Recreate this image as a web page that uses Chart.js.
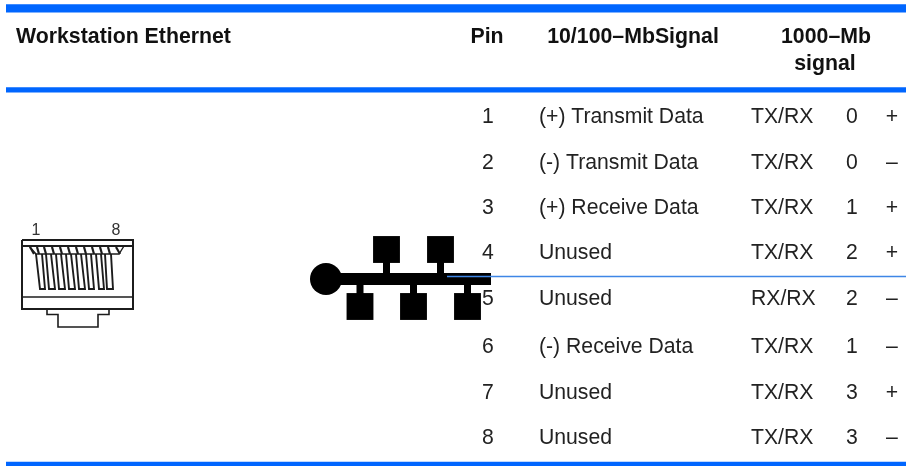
<!DOCTYPE html>
<html>
<head>
<meta charset="utf-8">
<style>
  html, body { margin: 0; padding: 0; background: #fff; }
  canvas { display: block; }
</style>
<script src="https://cdn.jsdelivr.net/npm/chart.js@4/dist/chart.umd.min.js"></script>
</head>
<body>
<canvas id="chart" width="906" height="466"></canvas>
<script>
// table contents
var pins = ["1", "2", "3", "4", "5", "6", "7", "8"];
var signals100 = ["(+) Transmit Data", "(-) Transmit Data", "(+) Receive Data", "Unused",
                  "Unused", "(-) Receive Data", "Unused", "Unused"];
var signals1000 = ["TX/RX", "TX/RX", "TX/RX", "TX/RX", "RX/RX", "TX/RX", "TX/RX", "TX/RX"];
var pairs = ["0", "0", "1", "2", "2", "1", "3", "3"];
var polarity = ["+", "–", "+", "+", "–", "–", "+", "–"];

var titleText = "Workstation Ethernet";
var pinHeader = "Pin";
var header100 = "10/100–MbSignal";
var header1000 = ["1000–Mb", "signal"];

// row centres along the y scale
var rowY = [117.5, 163, 208.5, 253.5, 299.5, 347, 393.5, 438.5];

// jack drawing: finger positions at top, shoulder and bottom
var fingerTop = [[30, 34], [37, 39], [44, 46], [52, 54], [60, 62], [68, 70], [76, 78], [84, 86], [92, 94], [100, 102], [108, 110], [116, 120]];
var fingerLeft = [36, 46, 56, 66, 76, 86, 96, 105];
var fingerRight = [42, 51, 61, 71, 81, 91, 101, 111];
var fingerBottomLeft = [40, 49, 59, 69, 79, 89, 99, 107];
var fingerBottomRight = [45, 55, 65, 75, 85, 94, 104, 113];

// network symbol nodes
var upperNodes = [386.5, 440.5];
var lowerNodes = [360, 413.5, 467.5];

function seg(x1, y1, x2, y2) {
    return [{x: x1, y: y1}, {x: x2, y: y2}];
}

function lineSet(points, color, width) {
    return {
        data: points,
        showLine: true,
        borderColor: color,
        borderWidth: width,
        pointRadius: 0,
        fill: false,
        tension: 0
    };
}

function nodeSet(points, style, radius) {
    return {
        data: points,
        showLine: false,
        pointStyle: style,
        pointRadius: radius,
        pointBorderWidth: 0,
        backgroundColor: "#000",
        borderColor: "#000"
    };
}

var blue = "#0066ff";
var ink = "#1c1c1c";
var datasets = [];

// first dataset ends up on top
datasets.push(lineSet(seg(447, 276.5, 906, 276.5), "#3f86e6", 1.5));

// table rules
datasets.push(lineSet(seg(6, 8.4, 906, 8.4), blue, 8.4));
datasets.push(lineSet(seg(6, 89.8, 906, 89.8), blue, 5.2));
datasets.push(lineSet(seg(6, 464, 906, 464), blue, 4.4));

// network symbol
datasets.push(lineSet(seg(326, 279, 491, 279), "#000", 12));
upperNodes.forEach(function (x) {
    datasets.push(lineSet(seg(x, 262, x, 274), "#000", 7));
});
lowerNodes.forEach(function (x) {
    datasets.push(lineSet(seg(x, 284, x, 294), "#000", 7));
});
datasets.push(nodeSet(upperNodes.map(function (x) { return {x: x, y: 249.5}; }), "rect", 19));
datasets.push(nodeSet(lowerNodes.map(function (x) { return {x: x, y: 306.5}; }), "rect", 19));
datasets.push(nodeSet([{x: 326, y: 279}], "circle", 16));

// jack body
datasets.push(lineSet([{x: 22, y: 240}, {x: 133, y: 240}, {x: 133, y: 309}, {x: 22, y: 309}, {x: 22, y: 240}], ink, 2));
datasets.push(lineSet(seg(22, 246, 133, 246), ink, 2));
datasets.push(lineSet(seg(22, 297, 133, 297), ink, 1.6));
datasets.push(lineSet([{x: 47, y: 310}, {x: 47, y: 314.5}, {x: 58, y: 314.5}, {x: 58, y: 327}, {x: 98, y: 327}, {x: 98, y: 314.5}, {x: 109, y: 314.5}, {x: 109, y: 310}], ink, 1.6));
datasets.push(lineSet([{x: 29, y: 246}, {x: 36, y: 254}, {x: 119, y: 254}, {x: 124, y: 246}], ink, 1.4));

// jack fingers
fingerLeft.forEach(function (x, i) {
    datasets.push(lineSet([
        {x: x, y: 254},
        {x: fingerBottomLeft[i], y: 289},
        {x: fingerBottomRight[i], y: 289},
        {x: fingerRight[i], y: 254}
    ], ink, 1.9));
});
fingerTop.forEach(function (t) {
    datasets.push(lineSet(seg(t[0], 247, t[1], 254), ink, 2.2));
});

function putText(ctx, xs, ys, text, x, y, align, font, color) {
    ctx.font = font;
    ctx.fillStyle = color;
    ctx.textAlign = align;
    ctx.textBaseline = "middle";
    ctx.fillText(text, xs.getPixelForValue(x), ys.getPixelForValue(y));
}

var tableText = {
    id: "tableText",
    afterDatasetsDraw: function (chart) {
        var ctx = chart.ctx;
        var xs = chart.scales.x;
        var ys = chart.scales.y;
        var bold = "bold 21.3px 'Liberation Sans'";
        var normal = "21.2px 'Liberation Sans'";
        ctx.save();
        putText(ctx, xs, ys, titleText, 16, 37, "left", bold, "#111");
        putText(ctx, xs, ys, pinHeader, 487, 37, "center", bold, "#111");
        putText(ctx, xs, ys, header100, 633, 37, "center", bold, "#111");
        putText(ctx, xs, ys, header1000[0], 826, 37, "center", bold, "#111");
        putText(ctx, xs, ys, header1000[1], 825, 64, "center", bold, "#111");
        pins.forEach(function (p, i) {
            putText(ctx, xs, ys, p, 488, rowY[i], "center", normal, "#222");
            putText(ctx, xs, ys, signals100[i], 539, rowY[i], "left", normal, "#222");
            putText(ctx, xs, ys, signals1000[i], 751, rowY[i], "left", normal, "#222");
            putText(ctx, xs, ys, pairs[i], 852, rowY[i], "center", normal, "#222");
            putText(ctx, xs, ys, polarity[i], 892, rowY[i], "center", normal, "#222");
        });
        putText(ctx, xs, ys, "1", 36, 231, "center", "16px 'Liberation Sans'", "#333");
        putText(ctx, xs, ys, "8", 116, 231, "center", "16px 'Liberation Sans'", "#333");
        ctx.restore();
    }
};

new Chart(document.getElementById("chart"), {
    type: "scatter",
    data: { datasets: datasets },
    options: {
        responsive: false,
        animation: false,
        layout: { padding: 0, autoPadding: false },
        plugins: { legend: { display: false }, tooltip: { enabled: false } },
        scales: {
            x: { type: "linear", min: 0, max: 906, display: false },
            y: { type: "linear", min: 0, max: 466, reverse: true, display: false }
        }
    },
    plugins: [tableText]
});
</script>
</body>
</html>
